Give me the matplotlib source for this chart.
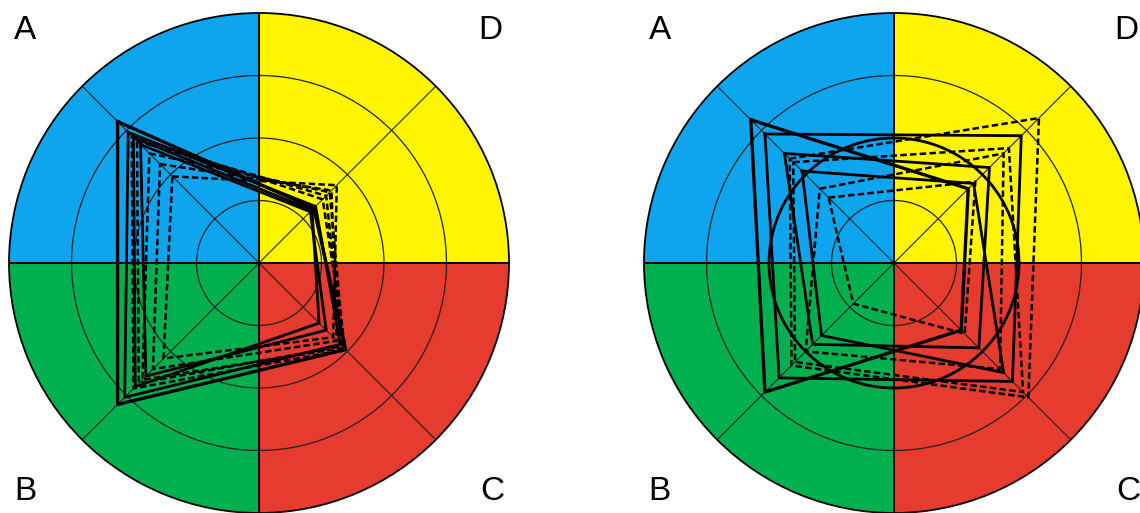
import numpy as np
import matplotlib
matplotlib.use("Agg")
import matplotlib.pyplot as plt

# ---- data ----
axis_labels = ["A", "D", "C", "B"]
axis_angles_deg = [135, 45, 315, 225]
quadrant_colors = ["#0FA5EE", "#FFF500", "#E63B2F", "#00B04F"]
ring_values = [0.25, 0.5, 0.75]

# left chart: values per polygon in order A, D, C, B
left_solid = [
    [0.80, 0.31, 0.49, 0.80],
    [0.74, 0.32, 0.46, 0.76],
    [0.67, 0.29, 0.38, 0.64],
    [0.71, 0.30, 0.34, 0.70],
]
left_dashed = [
    [0.72, 0.36, 0.49, 0.71],
    [0.69, 0.38, 0.47, 0.68],
    [0.62, 0.40, 0.48, 0.66],
    [0.56, 0.41, 0.44, 0.60],
    [0.49, 0.44, 0.42, 0.54],
]

# right chart
right_solid = [
    [0.81, 0.42, 0.38, 0.73],
    [0.73, 0.72, 0.67, 0.65],
    [0.62, 0.54, 0.48, 0.46],
    [0.52, 0.45, 0.62, 0.41],
]
right_dashed = [
    [0.59, 0.82, 0.76, 0.58],
    [0.57, 0.65, 0.73, 0.56],
    [0.42, 0.62, 0.60, 0.50],
    [0.37, 0.46, 0.40, 0.23],
]
right_circle_value = 0.5

W, H = 1140, 513
fig = plt.figure(figsize=(W / 100, H / 100), dpi=100)


def draw_chart(center_x, center_y, radius, solid, dashed, circle=None):
    ax = fig.add_axes([(center_x - radius) / W, (H - center_y - radius) / H,
                       2 * radius / W, 2 * radius / H], projection="polar")
    ax.set_ylim(0, 1)
    ax.grid(False)
    ax.set_xticks([])
    ax.set_yticks([])
    ax.spines["polar"].set_linewidth(1.3)
    ax.spines["polar"].set_color("black")
    # quadrant fills
    centers = np.deg2rad(axis_angles_deg)
    ax.bar(centers, [1] * 4, width=np.pi / 2, color=quadrant_colors,
           edgecolor="none", zorder=1)
    # rings
    th = np.linspace(0, 2 * np.pi, 361)
    for rv in ring_values:
        ax.plot(th, np.full_like(th, rv), color="#222222", lw=0.9, zorder=2)
    # diagonal spokes
    for a in axis_angles_deg:
        ax.plot([np.deg2rad(a)] * 2, [0, 1], color="#222222", lw=0.8, zorder=2)
    # quadrant boundaries
    for a in [0, 90, 180, 270]:
        ax.plot([np.deg2rad(a)] * 2, [0, 1], color="black", lw=1.4, zorder=2)
    ang = np.deg2rad(axis_angles_deg + [axis_angles_deg[0]])
    for vals in dashed:
        ax.plot(ang, vals + [vals[0]], color="black", lw=1.8,
                linestyle=(0, (2.6, 1.3)), zorder=3)
    for i, vals in enumerate(solid):
        ax.plot(ang, vals + [vals[0]], color="black",
                lw=2.4 if i == 0 else 2.0, zorder=4)
    if circle is not None:
        ax.plot(th, np.full_like(th, circle), color="black", lw=2.0, zorder=4)
    return ax


draw_chart(259, 263, 250, left_solid, left_dashed)
draw_chart(894, 263, 250, right_solid, right_dashed, right_circle_value)

label_pos = {
    "A": [(25, 31), (660, 31)],
    "D": [(490, 31), (1126, 31)],
    "B": [(25, 492), (659, 492)],
    "C": [(492, 492), (1128, 492)],
}
for lab in axis_labels:
    for (px, py) in label_pos[lab]:
        fig.text(px / W, 1 - py / H, lab, ha="center", va="center",
                 fontsize=24, family="Liberation Sans", color="black")

fig.savefig("out.png", dpi=100)
